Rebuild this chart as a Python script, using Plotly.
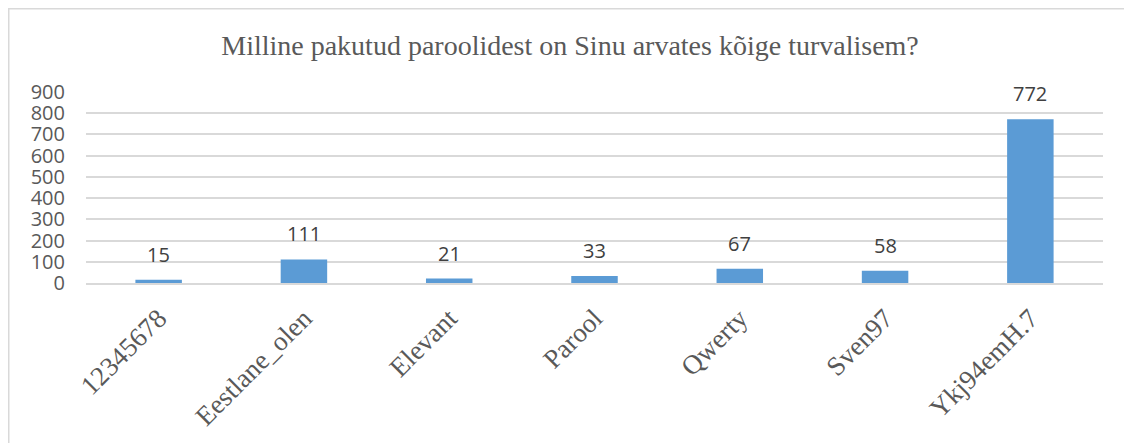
import plotly.graph_objects as go

categories = ["12345678", "Eestlane_olen", "Elevant", "Parool", "Qwerty", "Sven97", "Ykj94emH.7"]
values = [15, 111, 21, 33, 67, 58, 772]
y_ticks = [0, 100, 200, 300, 400, 500, 600, 700, 800, 900]
title_text = "Milline pakutud paroolidest on Sinu arvates kõige turvalisem?"

W, H = 1132, 443
L, R, T, B = 78, 37, 84, 168
pw = W - L - R
ph = H - T - B

fig = go.Figure()
fig.add_trace(go.Bar(
    x=categories, y=values,
    marker=dict(color="#5b9bd5", line=dict(width=0)),
    width=0.32,
    hoverinfo="x+y",
))

for i, v in enumerate(values):
    fig.add_annotation(x=i, y=v, text=str(v), showarrow=False,
                       xanchor="center", yanchor="bottom", yshift=10,
                       font=dict(family="Open Sans", size=20, color="#404040"))

# outer chart border (left and top visible)
fig.add_shape(type="rect", xref="paper", yref="paper",
              x0=(0.75 - L) / pw, x1=(W + 20 - L) / pw,
              y0=-(B + 20) / ph, y1=(H - B - 0.75) / ph,
              line=dict(color="#d9d9d9", width=1.5), fillcolor="rgba(0,0,0,0)", layer="below")

fig.update_layout(
    width=W, height=H,
    margin=dict(l=L, r=R, t=T, b=B, autoexpand=False),
    paper_bgcolor="white", plot_bgcolor="white",
    showlegend=False,
    title=dict(text=title_text, x=562 / W, xref="container", xanchor="center",
               y=1 - 37 / H, yref="container", yanchor="middle",
               font=dict(family="Liberation Serif", size=28, color="#595959")),
    xaxis=dict(type="category", categoryorder="array", categoryarray=categories,
               tickangle=-45, showgrid=False, showline=True, linecolor="#d9d9d9", linewidth=1.5,
               tickfont=dict(family="Liberation Serif", size=27, color="#595959"),
               ticks="outside", ticklen=7, tickcolor="rgba(0,0,0,0)", fixedrange=True),
    yaxis=dict(range=[0, 900], tickvals=y_ticks, showgrid=True, gridcolor="#d9d9d9", gridwidth=1.5,
               zeroline=False, showline=False,
               tickfont=dict(family="Open Sans", size=20, color="#595959"),
               ticks="outside", ticklen=16, tickcolor="rgba(0,0,0,0)", fixedrange=True),
)

fig.write_html("out.html")
